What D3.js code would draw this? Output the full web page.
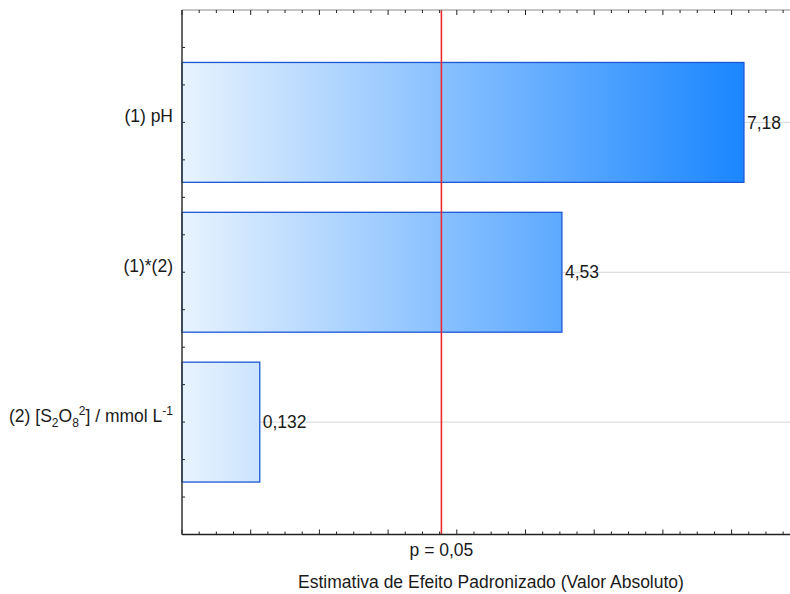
<!DOCTYPE html>
<html>
<head>
<meta charset="utf-8">
<script src="https://cdnjs.cloudflare.com/ajax/libs/d3/7.8.5/d3.min.js"></script>
<style>
  html, body { margin: 0; padding: 0; background: #fff; }
  svg text { font-family: Arial, "Liberation Sans", sans-serif; }
</style>
</head>
<body>
<script>
// Standardized effect estimates (absolute values), Pareto order
const effectIds = ["pH", "interaction", "persulfate"];
const effectValues = [7.18, 4.53, 0.132];
const valueLabels = ["7,18", "4,53", "0,132"];
const pCritical = 2.776;        // t(0.025; 4 df)
const pLabel = "p = 0,05";
const xTitle = "Estimativa de Efeito Padronizado (Valor Absoluto)";
const xDomain = [-1, 7.9];

const width = 790, height = 594;
const plot = { left: 182, top: 10, bottom: 534.5 };
const pxPerUnit = 68.7;
const fontSize = 17.5;

const svg = d3.select("body").append("svg")
  .attr("width", width).attr("height", height)
  .style("display", "block");

const x = d3.scaleLinear()
  .domain(xDomain)
  .range([plot.left, plot.left + (xDomain[1] - xDomain[0]) * pxPerUnit]);

// categories sit at 1,2,3 on a [0.25, 3.75] scale, ticks every quarter
const y = d3.scaleLinear().domain([0.25, 3.75]).range([plot.top, plot.bottom]);
const pos = i => i + 1;
const barHalf = 0.4;

const defs = svg.append("defs");
const grad = defs.append("linearGradient")
  .attr("id", "barFill")
  .attr("gradientUnits", "userSpaceOnUse")
  .attr("x1", x(xDomain[0])).attr("x2", x(effectValues[0]))
  .attr("y1", 0).attr("y2", 0);
grad.append("stop").attr("offset", 0).attr("stop-color", "#e8f3fe");
grad.append("stop").attr("offset", 1).attr("stop-color", "#1a86ff");

// horizontal gridlines through each category
svg.append("g").selectAll("line").data(effectValues).join("line")
  .attr("x1", plot.left).attr("x2", width)
  .attr("y1", (d, i) => y(pos(i))).attr("y2", (d, i) => y(pos(i)))
  .attr("stroke", "#d4d4d4").attr("stroke-width", 1);

// bars
svg.append("g").selectAll("rect").data(effectValues).join("rect")
  .attr("x", x(xDomain[0]))
  .attr("y", (d, i) => y(pos(i) - barHalf))
  .attr("width", d => x(d) - x(xDomain[0]))
  .attr("height", (d, i) => y(pos(i) + barHalf) - y(pos(i) - barHalf))
  .attr("fill", "url(#barFill)")
  .attr("stroke", "#1c58d6").attr("stroke-width", 1.3);

// value labels at the bar ends
svg.append("g").selectAll("text").data(effectValues).join("text")
  .attr("x", d => x(d) + 3)
  .attr("y", (d, i) => y(pos(i)))
  .attr("dy", "0.35em")
  .attr("font-size", fontSize).attr("fill", "#1a1a1a")
  .text((d, i) => valueLabels[i]);

// significance line
svg.append("line")
  .attr("x1", x(pCritical)).attr("x2", x(pCritical))
  .attr("y1", plot.top).attr("y2", plot.bottom)
  .attr("stroke", "#ec2a30").attr("stroke-width", 1.6);

// frame top (light)
svg.append("line").attr("x1", plot.left).attr("x2", width)
  .attr("y1", plot.top).attr("y2", plot.top)
  .attr("stroke", "#8a8a8a").attr("stroke-width", 1.2);

// tick marks along x
const minorTicks = d3.range(xDomain[0], xDomain[1] + 0.001, 0.25);
const isMajor = v => Math.abs(v - Math.round(v)) < 1e-6;
svg.append("g").selectAll("line").data(minorTicks).join("line")
  .attr("x1", d => x(d)).attr("x2", d => x(d))
  .attr("y1", plot.bottom).attr("y2", d => plot.bottom - (isMajor(d) ? 5 : 3))
  .attr("stroke", "#222").attr("stroke-width", 1);
svg.append("g").selectAll("line").data(minorTicks).join("line")
  .attr("x1", d => x(d)).attr("x2", d => x(d))
  .attr("y1", plot.top).attr("y2", d => plot.top + (isMajor(d) ? 5 : 3))
  .attr("stroke", "#222").attr("stroke-width", 1);

// tick marks along y
const yTicks = d3.range(0.5, 3.51, 0.25);
svg.append("g").selectAll("line").data(yTicks).join("line")
  .attr("x1", plot.left).attr("x2", plot.left + 3)
  .attr("y1", d => y(d)).attr("y2", d => y(d))
  .attr("stroke", "#222").attr("stroke-width", 1);

// frame bottom and left (dark)
svg.append("line").attr("x1", plot.left).attr("x2", width)
  .attr("y1", plot.bottom).attr("y2", plot.bottom)
  .attr("stroke", "#222").attr("stroke-width", 1.5);
svg.append("line").attr("x1", plot.left).attr("x2", plot.left)
  .attr("y1", plot.top).attr("y2", plot.bottom)
  .attr("stroke", "#333").attr("stroke-width", 1.5);

// category labels (with sub/superscripts)
const labelParts = [
  [["(1) pH", 0]],
  [["(1)*(2)", 0]],
  [["(2) [S", 0], ["2", 1], ["O", 0], ["8", 1], ["2", -1], ["] / mmol L", 0], ["-1", -1]]
];
const labels = svg.append("g").selectAll("text").data(labelParts).join("text")
  .attr("x", plot.left - 9)
  .attr("y", (d, i) => y(pos(i)))
  .attr("dy", "0.35em")
  .attr("text-anchor", "end")
  .attr("font-size", fontSize).attr("fill", "#1a1a1a");
labels.each(function(parts) {
  const t = d3.select(this);
  let cur = 0;
  parts.forEach(([s, shift]) => {
    const target = shift === 1 ? 5 : shift === -1 ? -7 : 0;
    const ts = t.append("tspan").text(s).attr("dy", target - cur);
    if (shift !== 0) ts.attr("font-size", 12);
    cur = target;
  });
});

// axis annotations
svg.append("text")
  .attr("x", x(pCritical)).attr("y", 556)
  .attr("text-anchor", "middle")
  .attr("font-size", fontSize).attr("fill", "#1a1a1a")
  .text(pLabel);
svg.append("text")
  .attr("x", 491).attr("y", 588)
  .attr("text-anchor", "middle")
  .attr("font-size", fontSize).attr("fill", "#1a1a1a")
  .text(xTitle);
</script>
</body>
</html>
